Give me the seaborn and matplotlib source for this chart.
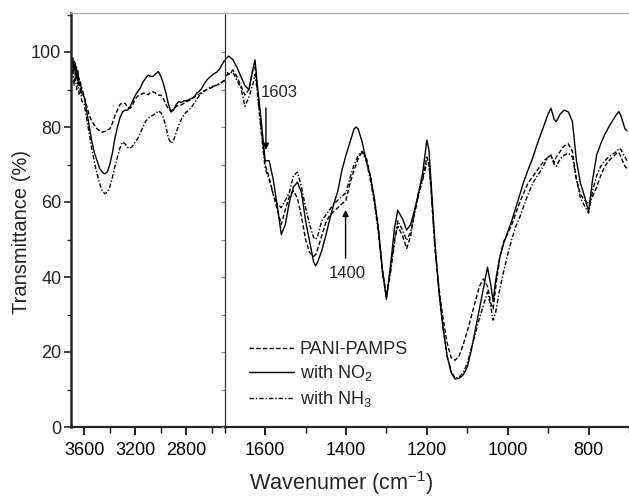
import numpy as np
import pandas as pd
import matplotlib
matplotlib.use("Agg")
import matplotlib.pyplot as plt
import seaborn as sns

# ---------------- data ----------------
left_wn = [3700, 3690, 3680, 3670, 3660, 3650, 3640, 3630, 3620, 3600, 3580, 3560,
           3540, 3520, 3500, 3480, 3460, 3440, 3420, 3400, 3380, 3360, 3340, 3320,
           3300, 3280, 3260, 3240, 3220, 3200, 3180, 3160, 3140, 3120, 3100, 3080,
           3060, 3040, 3020, 3000, 2980, 2960, 2940, 2920, 2900, 2880, 2860, 2840,
           2820, 2800, 2780, 2760, 2740, 2720, 2700, 2680, 2660, 2640, 2620, 2600,
           2580, 2560, 2540, 2520, 2500]
left_no2 = [96, 98.5, 95, 97, 93, 95, 91, 92, 89, 88, 84, 80,
            76, 73, 71, 69, 68, 67.5, 68, 70, 73, 77, 80, 82.5,
            84, 84.5, 84.5, 85.5, 87, 88.5, 89.5, 90.5, 92, 93, 93.8, 93.5,
            93.5, 94.2, 94.8, 93.5, 91.5, 89, 86, 84, 84.5, 86, 86.8, 86.5,
            87, 87, 87.3, 87.6, 88, 89, 89.5, 90.3, 91.5, 92.5, 93.2, 93.8,
            94.3, 94.7, 95.5, 96.7, 97.8]
left_pani = [97, 95, 97.5, 94, 96, 92, 93, 90, 90.5, 88, 85.5, 83,
             81.5, 80.5, 79.5, 79, 78.6, 78.8, 79.2, 79.5, 81, 83, 84.5, 86,
             86.5, 86.3, 85.2, 85, 86, 87.5, 88.3, 88.6, 89, 89, 88.6, 89.2,
             89.4, 89, 88.5, 88.5, 87.5, 86, 84.8, 84.3, 84.8, 85.5, 85.8, 85.9,
             86.3, 86.8, 87, 87.5, 88, 88.3, 88.8, 89.2, 89.6, 90, 90.3, 90.5,
             90.8, 91.2, 91.6, 92, 92.5]
left_nh3 = [93, 96, 91, 94, 90, 92, 88.5, 90, 87, 86, 82, 78,
            74, 70.5, 67.5, 65, 63, 62.2, 62.6, 64, 66.5, 69.5, 72, 74.5,
            76, 75.5, 74.5, 74.3, 75, 76, 77, 78.5, 80, 81.5, 82.3, 82.8,
            83.2, 83.6, 84.3, 83.8, 82.5, 80, 77, 75.6, 76.5, 78.5, 80.5, 82,
            83.3, 84, 84.5, 85.3, 86.3, 87.3, 88.3, 89, 89.6, 90, 90.4, 90.8,
            91, 91.2, 91.5, 92, 92.3]

right_wn = [1700, 1690, 1680, 1670, 1660, 1650, 1640, 1630, 1625, 1620, 1610, 1600,
            1590, 1580, 1570, 1560, 1550, 1540, 1530, 1520, 1510, 1500, 1490, 1480,
            1475, 1470, 1460, 1450, 1440, 1430, 1420, 1410, 1400, 1390, 1380, 1375,
            1370, 1360, 1350, 1340, 1330, 1320, 1310, 1300, 1290, 1280, 1272, 1260,
            1250, 1240, 1230, 1220, 1210, 1200, 1195, 1190, 1180, 1170, 1160, 1150,
            1140, 1130, 1120, 1110, 1100, 1090, 1080, 1070, 1060, 1050, 1042, 1036,
            1030, 1020, 1010, 1000, 990, 980, 970, 960, 950, 940, 930, 920,
            910, 900, 893, 885, 880, 870, 860, 850, 840, 830, 820, 810,
            800, 790, 780, 770, 760, 750, 740, 730, 725, 720, 710, 705]
right_no2 = [97.9, 98.9, 98, 96, 93.5, 91, 90, 95.5, 97.9, 92, 82, 71,
             71, 66, 59, 51.3, 54, 60, 64, 65.3, 62.5, 55, 49.5, 44,
             43, 44, 47, 51, 55.5, 59.5, 63, 68.5, 72.5, 76, 79.5, 80,
             79.5, 76, 71, 67, 61, 53, 42, 34, 43, 53, 57.8, 55.5,
             52.5, 54, 58, 62.5, 68, 76.5, 74, 66, 49, 36, 26.5, 19,
             14.5, 12.8, 13, 13.9, 16, 20.5, 26, 31.5, 37, 42.6, 38, 33.5,
             39, 45, 49, 52, 55, 58.5, 62, 65.5, 68.5, 71.2, 74.5, 77.5,
             80.5, 83.5, 85, 82, 81.4, 83.5, 84.5, 84, 81.5, 71, 65, 61.5,
             57.5, 66, 72.5, 75.5, 78, 80, 81.8, 83.5, 84.1, 83, 79.5, 79]
right_pani = [95.6, 94, 95.2, 93.5, 91, 88.5, 90, 95.5, 96, 91, 80, 70,
              66.5, 62, 58, 54, 58, 61.5, 63, 61, 56, 50, 46.5, 45.5,
              46, 47.5, 51, 54.5, 56.5, 57.5, 58.5, 59.5, 60.5, 65, 68.5, 70,
              71.5, 73.5, 72, 67, 61, 53, 42, 35, 42, 50, 53.5, 51,
              47.6, 51, 57.5, 63, 66.5, 72, 70, 64, 48, 37, 29, 22.5,
              18.5, 17.8, 19, 22, 25.5, 29.5, 33.5, 37.5, 39.5, 37.5, 33, 31.5,
              37, 45, 49.5, 51.5, 54, 57, 60, 62.5, 65, 66.5, 68, 69.5,
              71, 72, 72.5, 70.5, 72, 73.5, 75, 75.5, 73.5, 66, 62, 60.5,
              59.5, 61.5, 64, 67, 69.5, 71, 72, 73, 73.2, 72, 69.5, 69]
right_nh3 = [93.4, 94.2, 94.7, 92.5, 90.5, 85.5, 88, 91.5, 94, 90, 79, 69,
             66, 62, 59.5, 58.5, 60.5, 62.5, 67, 68, 64, 58.5, 54, 50.5,
             50, 51, 55, 56.5, 58, 59.5, 60.5, 61.5, 62.5, 66.5, 70, 71,
             72.5, 73.5, 71, 66, 60, 52, 41, 34.5, 41, 49, 55, 52.5,
             49.8, 52, 57, 62, 66, 70.5, 70.5, 64, 48, 36, 26.5, 19,
             15, 13, 13.3, 14.5, 17, 21, 25, 29, 32.5, 36, 32, 28.5,
             30.5, 36.5, 41.5, 46, 50, 53.5, 56, 59, 62, 64.5, 66.5, 68,
             70, 72, 72.5, 70, 69.5, 71.5, 72.5, 73, 72, 66, 61, 59,
             57, 63, 67, 69.5, 71, 72, 72.8, 73.5, 74.3, 74, 72, 71]

labels = ["PANI-PAMPS", "with NO$_2$", "with NH$_3$"]
y_ticks = [0, 20, 40, 60, 80, 100]
left_ticks = [3600, 3200, 2800]
right_ticks = [1600, 1400, 1200, 1000, 800]

# ---------------- styling ----------------
sns.set_theme(style="ticks")
plt.rcParams["font.family"] = ["Liberation Sans", "DejaVu Sans"]
plt.rcParams["mathtext.default"] = "regular"

DASHED = (0, (3.2, 1.6))
SOLID = "-"
DASHDOT = (0, (3.2, 1.4, 1.0, 1.4))
styles = [DASHED, SOLID, DASHDOT]
LW = 1.0
TICKFS = 13

fig = plt.figure(figsize=(6.29, 5.04), dpi=100)
x0, xb, x1 = 71 / 629, 224.7 / 629, 1.0
y0, y1 = 1 - 427 / 504, 1 - 13 / 504
axL = fig.add_axes([x0, y0, xb - x0, y1 - y0])
axR = fig.add_axes([xb, y0, x1 - xb, y1 - y0])

left_df = pd.DataFrame({"wn": left_wn, labels[0]: left_pani,
                        labels[1]: left_no2, labels[2]: left_nh3})
right_df = pd.DataFrame({"wn": right_wn, labels[0]: right_pani,
                         labels[1]: right_no2, labels[2]: right_nh3})

for lab, ls in zip(labels, styles):
    sns.lineplot(data=left_df, x="wn", y=lab, ax=axL, color="black",
                 linestyle=ls, linewidth=LW, errorbar=None, legend=False)
    sns.lineplot(data=right_df, x="wn", y=lab, ax=axR, color="black",
                 linestyle=ls, linewidth=LW, errorbar=None, label=lab)

for ax in (axL, axR):
    ax.set_ylim(0, 110.4)
    ax.set_xlabel("")
    ax.set_ylabel("")
    ax.spines["right"].set_visible(False)
    ax.spines["top"].set_color("#b0b0b0")
    ax.spines["top"].set_linewidth(1.0)
    ax.spines["bottom"].set_linewidth(1.6)
    ax.set_facecolor("none")

axL.set_xlim(3704, 2500)
axR.set_xlim(1700, 703)

axL.set_xticks(left_ticks)
axL.set_xticks([3400, 3000, 2600], minor=True)
axR.set_xticks(right_ticks)
axR.set_xticks([1700, 1500, 1300, 1100, 900, 700], minor=True)

axL.set_yticks(y_ticks)
axL.set_yticks([10, 30, 50, 70, 90, 110], minor=True)
axR.set_yticks(y_ticks)
axR.set_yticks([10, 30, 50, 70, 90], minor=True)
axR.set_yticklabels([])

axL.spines["left"].set_linewidth(1.8)
axR.spines["left"].set_linewidth(0.9)
axR.spines["left"].set_color("#333333")

for ax in (axL, axR):
    ax.tick_params(axis="x", which="major", direction="out", length=6, width=1.2,
                   labelsize=TICKFS, pad=5, colors="black")
    ax.tick_params(axis="x", which="minor", direction="out", length=4, width=1.0,
                   colors="black")
axL.tick_params(axis="y", which="major", direction="out", length=5, width=1.2,
                labelsize=TICKFS, pad=2)
axL.tick_params(axis="y", which="minor", direction="out", length=3, width=1.0)
axR.tick_params(axis="y", which="both", direction="out", length=3, width=0.8,
                color="#888888")

# annotations
axR.annotate("", xy=(1598, 73.9), xytext=(1598, 85.1),
             arrowprops=dict(arrowstyle="-|>", lw=1.0, color="black",
                             mutation_scale=9, shrinkA=0, shrinkB=0))
axR.text(1611, 89.3, "1603", ha="left", va="center", fontsize=12)
axR.annotate("", xy=(1401, 57.9), xytext=(1401, 45.0),
             arrowprops=dict(arrowstyle="-|>", lw=1.0, color="black",
                             mutation_scale=9, shrinkA=0, shrinkB=0))
axR.text(1396, 41.0, "1400", ha="center", va="center", fontsize=12)

# legend
handles, labs = axR.get_legend_handles_labels()
leg = axR.legend(handles, labs, loc="upper left",
                 bbox_to_anchor=(249 / 629, 1 - 341 / 504),
                 bbox_transform=fig.transFigure, frameon=False,
                 fontsize=13, handlelength=2.5, handletextpad=0.3,
                 labelspacing=0.3, borderpad=0, borderaxespad=0)

# axis labels
fig.text(341 / 629, 1 - 483 / 504, "Wavenumer (cm$^{-1}$)", ha="center",
         va="center", fontsize=15.6)
fig.text(22 / 629, 1 - 232 / 504, "Transmittance (%)", ha="center",
         va="center", rotation=90, fontsize=14.5)

fig.savefig("out.png", dpi=100)
